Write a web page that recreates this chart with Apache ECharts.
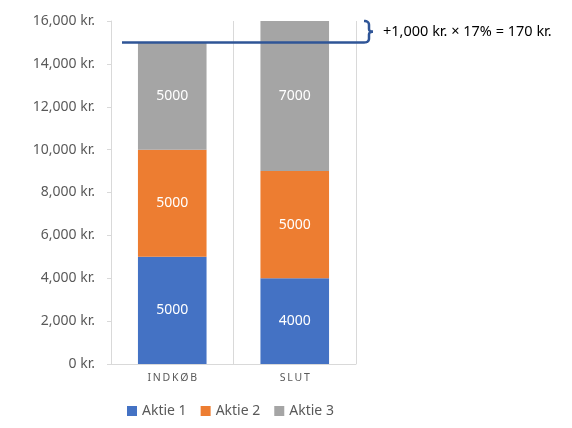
<!DOCTYPE html>
<html lang="da">
  <head>
    <meta charset="UTF-8" />
    <title>Aktier indkøb / slut</title>
    <script src="https://cdn.jsdelivr.net/npm/echarts@6/dist/echarts.min.js"></script>
    <style>
      * {
        margin: 0;
        padding: 0;
      }
      body {
        background: #fff;
      }
    </style>
  </head>
  <body>
    <div id="main" style="width: 572px; height: 428px"></div>
    <script>
      var categories = ['INDKØB', 'SLUT'];
      var aktie1 = [5000, 4000];
      var aktie2 = [5000, 5000];
      var aktie3 = [5000, 7000];
      var seriesNames = ['Aktie 1', 'Aktie 2', 'Aktie 3'];
      var colors = ['#4472C4', '#ED7D31', '#A5A5A5'];
      // annotering: start-total og slut-total
      var startTotal = 15000;
      var slutTotal = 16000;
      var noteText = '+1,000 kr. × 17% = 170 kr.';

      var font = "'Noto Sans', sans-serif";
      var myChart = echarts.init(document.getElementById('main'));

      // spredte bogstaver som i Excel
      function spread(s) {
        return s.split('').join('\u2009');
      }

      function makeSeries(name, data, color) {
        return {
          name: name,
          type: 'bar',
          stack: 'total',
          data: data,
          barCategoryGap: '44%',
          itemStyle: { color: color },
          label: {
            show: true,
            position: 'inside',
            color: '#fff',
            fontSize: 14,
            fontFamily: font
          }
        };
      }

      myChart.setOption({
        animation: false,
        color: colors,
        grid: { left: 111, right: 216, top: 21, bottom: 64 },
        legend: {
          bottom: 5,
          left: 122,
          itemWidth: 10,
          itemHeight: 10,
          itemGap: 14,
          icon: 'rect',
          textStyle: { color: '#595959', fontSize: 14, fontFamily: font }
        },
        xAxis: {
          type: 'category',
          data: categories,
          axisTick: { show: false },
          axisLine: { lineStyle: { color: '#D9D9D9', width: 1 } },
          splitLine: { show: true, lineStyle: { color: '#D9D9D9' } },
          axisLabel: {
            color: '#595959',
            fontSize: 10.5,
            fontFamily: font,
            margin: 9,
            formatter: spread
          }
        },
        yAxis: {
          type: 'value',
          min: 0,
          max: 16000,
          interval: 2000,
          splitLine: { show: false },
          axisLine: { show: true, lineStyle: { color: '#D9D9D9' } },
          axisTick: { show: true, length: 4, lineStyle: { color: '#D9D9D9' } },
          axisLabel: {
            color: '#595959',
            fontSize: 14,
            fontFamily: font,
            margin: 16,
            formatter: function (v) {
              return v.toLocaleString('en-US') + ' kr.';
            }
          }
        },
        series: [
          makeSeries(seriesNames[0], aktie1, colors[0]),
          makeSeries(seriesNames[1], aktie2, colors[1]),
          makeSeries(seriesNames[2], aktie3, colors[2])
        ]
      });

      // linje ved start-total og klamme op til slut-total
      var yStart = myChart.convertToPixel({ yAxisIndex: 0 }, startTotal);
      var ySlut = myChart.convertToPixel({ yAxisIndex: 0 }, slutTotal);
      var yMid = (yStart + ySlut) / 2;
      var xs = 122;
      var xb = 364;

      // kvadratisk kurve som punkter
      function quad(p0, c, p1) {
        var out = [];
        for (var i = 1; i <= 8; i++) {
          var t = i / 8;
          var a = (1 - t) * (1 - t), b = 2 * (1 - t) * t, d = t * t;
          out.push([a * p0[0] + b * c[0] + d * p1[0], a * p0[1] + b * c[1] + d * p1[1]]);
        }
        return out;
      }

      var xv = xb + 5;
      var lowerPts = [[xs, yStart], [xb, yStart]]
        .concat(quad([xb, yStart], [xv, yStart], [xv, yStart - 4]))
        .concat([[xv, yMid + 3]])
        .concat(quad([xv, yMid + 3], [xv, yMid], [xv + 4, yMid]));
      var upperPts = [[xv + 4, yMid]]
        .concat(quad([xv + 4, yMid], [xv, yMid], [xv, yMid - 3]))
        .concat([[xv, ySlut + 4]])
        .concat(quad([xv, ySlut + 4], [xv, ySlut], [xb, ySlut]));

      var braceStyle = { fill: null, stroke: '#2F5597', lineWidth: 2.5, lineJoin: 'round' };
      myChart.setOption({
        graphic: [
          { type: 'polyline', shape: { points: lowerPts }, style: braceStyle, z: 100 },
          { type: 'polyline', shape: { points: upperPts }, style: braceStyle, z: 100 },
          {
            type: 'text',
            x: 383,
            y: yMid,
            style: {
              text: noteText,
              fill: '#000',
              fontSize: 14.5,
              fontFamily: font,
              verticalAlign: 'middle'
            },
            z: 100
          }
        ]
      });
    </script>
  </body>
</html>
